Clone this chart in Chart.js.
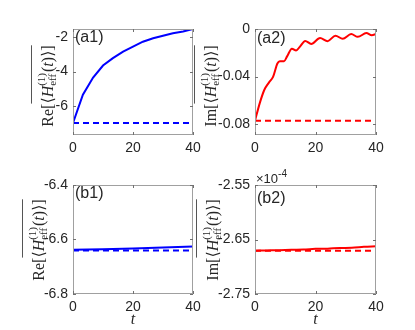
<!DOCTYPE html>
<html>
<head>
<meta charset="utf-8">
<script src="https://cdn.jsdelivr.net/npm/chart.js@4/dist/chart.umd.min.js"></script>
<style>
  html, body { margin: 0; padding: 0; background: #fff; }
  #wrap { position: relative; width: 415px; height: 330px; }
  #wrap canvas { position: absolute; left: 0; top: 0; }
</style>
</head>
<body>
<div id="wrap">
  <canvas id="a1" width="415" height="330"></canvas>
  <canvas id="a2" width="415" height="330"></canvas>
  <canvas id="b1" width="415" height="330"></canvas>
  <canvas id="b2" width="415" height="330"></canvas>
</div>
<script>
// data
const xTicks = [0, 20, 40];

const tA1 = [0, 3.3, 6.7, 10, 13.3, 16.7, 20, 23.3, 26.7, 30, 33.3, 36.7, 40];
const reA1 = [-7.0, -5.35, -4.35, -3.65, -3.22, -2.84, -2.55, -2.26, -2.06, -1.91, -1.77, -1.67, -1.52];
const refA1 = -7.0;
const yTicksA1 = [-6, -4, -2];

const tA2 = [0, 1.6, 3.1, 4.6, 6.0, 7.4, 8.2, 9.6, 10.6, 12.2, 13.6, 14.8, 16.6, 18.6, 21.5, 24.0, 26.6, 29.0, 31.8, 34.0, 36.8, 38.6, 40];
const imA2 = [-0.077, -0.062, -0.051, -0.045, -0.040, -0.029, -0.027, -0.027, -0.023, -0.0165, -0.018, -0.015, -0.010, -0.0125, -0.0076, -0.0102, -0.0056, -0.0082, -0.0043, -0.0066, -0.0034, -0.0052, -0.0042];
const refA2 = -0.077;
const yTicksA2 = [-0.08, -0.04, 0];

const tB1 = [0, 10, 20, 30, 40];
const reB1 = [-6.638, -6.636, -6.633, -6.629, -6.626];
const refB1 = -6.640;
const yTicksB1 = [-6.8, -6.6, -6.4];

const tB2 = [0, 4, 8, 12, 16, 20, 24, 28, 32, 36, 40];
const imB2 = [-2.6705, -2.6700, -2.6696, -2.6688, -2.6684, -2.6672, -2.6668, -2.6655, -2.6652, -2.6635, -2.6625];
const refB2 = -2.6705;
const yTicksB2 = [-2.75, -2.65, -2.55];

const W = 415, H = 330;
const ink = '#262626';
const serif = '"Liberation Serif", "DejaVu Serif", serif';
const sans = '"Liberation Sans", Arial, sans-serif';

function drawYLabel(ctx, head, xBase, yMid) {
  const big = '16px ' + serif, bigIt = 'italic 16px ' + serif, small = '11px ' + serif;
  const parts = [
    { s: head + '[', f: big },
    { s: '\u27E8', f: big, ov: 'start' },
    { s: 'H', f: bigIt },
    { sup: '(1)', sub: 'eff' },
    { s: '(', f: big },
    { s: 't', f: bigIt },
    { s: ')', f: big },
    { s: '\u27E9', f: big },
    { s: ']', f: big, ov: 'end' }
  ];
  let w = 0;
  parts.forEach(p => {
    if (p.sup) {
      ctx.font = small;
      p.w = Math.max(ctx.measureText(p.sup).width, ctx.measureText(p.sub).width) + 1;
    } else {
      ctx.font = p.f;
      p.w = ctx.measureText(p.s).width;
    }
    w += p.w;
  });
  ctx.save();
  ctx.translate(xBase, yMid);
  ctx.rotate(-Math.PI / 2);
  ctx.fillStyle = ink;
  ctx.textBaseline = 'alphabetic';
  let x = -w / 2, ovA = 0, ovB = 0;
  parts.forEach(p => {
    if (p.ov === 'start') ovA = x;
    if (p.sup) {
      ctx.font = small;
      ctx.fillText(p.sup, x, -8);
      ctx.fillText(p.sub, x, 3);
    } else {
      ctx.font = p.f;
      ctx.fillText(p.s, x, 0);
    }
    x += p.w;
    if (p.ov === 'end') ovB = x;
  });
  ctx.strokeStyle = '#555';
  ctx.lineWidth = 1;
  ctx.beginPath();
  ctx.moveTo(ovA, -21.5);
  ctx.lineTo(ovB, -21.5);
  ctx.stroke();
  ctx.restore();
}

const frame = {
  id: 'frame',
  afterDraw(chart, args, o) {
    const { ctx, chartArea: a, scales: { x, y } } = chart;
    ctx.save();
    ctx.strokeStyle = '#a0a0a0';
    ctx.lineWidth = 1;
    ctx.strokeRect(a.left + 0.5, a.top + 0.5, a.right - a.left - 1, a.bottom - a.top - 1);
    ctx.strokeStyle = '#707070';
    ctx.beginPath();
    xTicks.forEach(v => {
      const px = Math.round(x.getPixelForValue(v)) + 0.5;
      ctx.moveTo(px, a.bottom); ctx.lineTo(px, a.bottom - 3);
      ctx.moveTo(px, a.top); ctx.lineTo(px, a.top + 3);
    });
    o.yTicks.forEach(v => {
      const py = Math.round(y.getPixelForValue(v)) + 0.5;
      ctx.moveTo(a.left, py); ctx.lineTo(a.left + 3, py);
      ctx.moveTo(a.right, py); ctx.lineTo(a.right - 3, py);
    });
    ctx.stroke();

    ctx.fillStyle = ink;
    ctx.font = '16px ' + sans;
    ctx.textBaseline = 'top';
    ctx.fillText(o.tag, a.left + 2, a.top + o.tagDy);

    drawYLabel(ctx, o.head, o.labX, o.labY);

    if (o.xTitle) {
      ctx.font = 'italic 16px ' + serif;
      ctx.textAlign = 'center';
      ctx.textBaseline = 'middle';
      ctx.fillText('t', (a.left + a.right) / 2, a.bottom + 26);
      ctx.textAlign = 'left';
    }
    if (o.exp) {
      ctx.textBaseline = 'alphabetic';
      ctx.font = '13px ' + sans;
      ctx.fillText('\u00D710', a.left + 1, a.top - 2);
      const ew = ctx.measureText('\u00D710').width;
      ctx.font = '10px ' + sans;
      ctx.fillText(o.exp, a.left + 1 + ew, a.top - 8);
    }
    ctx.restore();
  }
};

function panel(id, box, t, vals, ref, color, yMin, yMax, yTicks, smooth, extra) {
  const lineData = t.map((v, i) => ({ x: v, y: vals[i] }));
  const refData = [{ x: t[0], y: ref }, { x: t[t.length - 1], y: ref }];
  return new Chart(document.getElementById(id), {
    type: 'line',
    data: {
      datasets: [
        { data: lineData, borderColor: color, borderWidth: 2, pointRadius: 0, fill: false,
          cubicInterpolationMode: smooth ? 'monotone' : 'default', tension: 0 },
        { data: refData, borderColor: color, borderWidth: 2, pointRadius: 0, fill: false, borderDash: [6, 4] }
      ]
    },
    options: {
      responsive: false,
      animation: false,
      devicePixelRatio: 1,
      layout: { autoPadding: false, padding: { top: box.t, right: W - box.r, bottom: 0, left: 0 } },
      plugins: {
        legend: { display: false },
        tooltip: { enabled: false },
        frame: Object.assign({ yTicks: yTicks }, extra)
      },
      scales: {
        x: {
          type: 'linear', min: 0, max: 40,
          grid: { display: false, drawTicks: false },
          border: { display: false },
          afterBuildTicks: s => { s.ticks = xTicks.map(v => ({ value: v })); },
          afterFit: s => { s.height = H - box.b; },
          ticks: { padding: 5, color: ink, font: { family: sans, size: 14 }, maxRotation: 0, autoSkip: false }
        },
        y: {
          type: 'linear', min: yMin, max: yMax,
          grid: { display: false, drawTicks: false },
          border: { display: false },
          afterBuildTicks: s => { s.ticks = yTicks.map(v => ({ value: v })); },
          afterFit: s => { s.width = box.l; },
          ticks: { padding: 5, color: ink, font: { family: sans, size: 14 }, callback: v => String(v) }
        }
      }
    },
    plugins: [frame]
  });
}

panel('a1', { l: 73, r: 193, t: 29, b: 135 }, tA1, reA1, refA1, '#0000ff', -7.7, -1.52, yTicksA1, false,
  { tag: '(a1)', tagDy: 1, head: 'Re', labX: 53, labY: 86 });
panel('a2', { l: 255, r: 376, t: 29, b: 135 }, tA2, imA2, refA2, '#ff0000', -0.089, 0, yTicksA2, true,
  { tag: '(a2)', tagDy: 2, head: 'Im', labX: 216, labY: 86 });
panel('b1', { l: 73, r: 193, t: 185, b: 294 }, tB1, reB1, refB1, '#0000ff', -6.8, -6.4, yTicksB1, false,
  { tag: '(b1)', tagDy: 1, head: 'Re', labX: 44, labY: 240, xTitle: true });
panel('b2', { l: 255, r: 376, t: 185, b: 294 }, tB2, imB2, refB2, '#ff0000', -2.75, -2.55, yTicksB2, true,
  { tag: '(b2)', tagDy: 6, head: 'Im', labX: 218, labY: 240, xTitle: true, exp: '-4' });
</script>
</body>
</html>
